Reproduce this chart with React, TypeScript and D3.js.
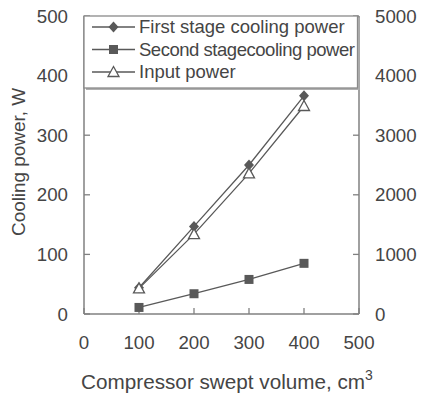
import React from "react";
import * as d3 from "d3";

const volumes = [100, 200, 300, 400];
const firstStage = [44, 147, 250, 366];
const secondStage = [11, 34, 58, 85];
const inputPower = [430, 1340, 2360, 3490];
const xTicks = [0, 100, 200, 300, 400, 500];
const yLeftTicks = [0, 100, 200, 300, 400, 500];
const yRightTicks = [0, 1000, 2000, 3000, 4000, 5000];
const legendLabels = ["First stage cooling power", "Second stagecooling power", "Input power"];

const W = 421, H = 394;
const m = { left: 84, right: 359, top: 16, bottom: 314 };
const FONT = "Liberation Sans, Arial, sans-serif";
const TEXT = "#454545";
const AXIS = "#808080";
const MARK = "#595959";

export default function App() {
  const x = d3.scaleLinear().domain([0, 500]).range([m.left, m.right]);
  const yL = d3.scaleLinear().domain([0, 500]).range([m.bottom, m.top]);
  const yR = d3.scaleLinear().domain([0, 5000]).range([m.bottom, m.top]);
  const line = d3.line<[number, number]>().x(d => d[0]).y(d => d[1]);

  const p1 = volumes.map((v, i) => [x(v), yL(firstStage[i])] as [number, number]);
  const p2 = volumes.map((v, i) => [x(v), yL(secondStage[i])] as [number, number]);
  const p3 = volumes.map((v, i) => [x(v), yR(inputPower[i])] as [number, number]);

  const diamond = (cx: number, cy: number) => (
    <path d={`M${cx},${cy - 5.5}L${cx + 5},${cy}L${cx},${cy + 5.5}L${cx - 5},${cy}Z`} fill={MARK} />
  );
  const square = (cx: number, cy: number) => (
    <rect x={cx - 4.5} y={cy - 4.5} width={9} height={9} fill={MARK} />
  );
  const triangle = (cx: number, cy: number) => (
    <path d={`M${cx},${cy - 5.5}L${cx + 5.5},${cy + 4.5}L${cx - 5.5},${cy + 4.5}Z`} fill="#fff" stroke={MARK} strokeWidth={1.3} />
  );

  const legX = m.left, legY = m.top, legW = 273.5, legH = 72;
  const rowY = [27, 49.5, 72];

  return (
    <svg width={W} height={H} style={{ position: "absolute", left: 0, top: 0 }} fontFamily={FONT}>
      <rect width={W} height={H} fill="#fff" />
      {/* axes */}
      <line x1={m.left} x2={m.left} y1={m.top} y2={m.bottom} stroke={AXIS} strokeWidth={1.5} />
      <line x1={m.right} x2={m.right} y1={m.top} y2={m.bottom} stroke={AXIS} strokeWidth={1.5} />
      <line x1={m.left} x2={m.right} y1={m.bottom} y2={m.bottom} stroke={AXIS} strokeWidth={1.5} />
      {yLeftTicks.map(t => (
        <g key={"l" + t}>
          <line x1={m.left} x2={m.left + 6} y1={yL(t)} y2={yL(t)} stroke={AXIS} strokeWidth={1.3} />
          <text x={68} y={yL(t)} dy="0.35em" textAnchor="end" fontSize={18.7} fill={TEXT}>{t}</text>
        </g>
      ))}
      {yRightTicks.map(t => (
        <g key={"r" + t}>
          <line x1={m.right - 6} x2={m.right} y1={yR(t)} y2={yR(t)} stroke={AXIS} strokeWidth={1.3} />
          <text x={375} y={yR(t)} dy="0.35em" textAnchor="start" fontSize={18.7} fill={TEXT}>{t}</text>
        </g>
      ))}
      {xTicks.map(t => (
        <g key={"x" + t}>
          <line x1={x(t)} x2={x(t)} y1={m.bottom - 6} y2={m.bottom} stroke={AXIS} strokeWidth={1.3} />
          <text x={x(t)} y={348.5} textAnchor="middle" fontSize={18.7} fill={TEXT}>{t}</text>
        </g>
      ))}
      {/* titles */}
      <text transform={`translate(25,162) rotate(-90)`} textAnchor="middle" fontSize={18.9} fill={TEXT}>Cooling power, W</text>
      <text x={227} y={389} textAnchor="middle" fontSize={20.7} fill={TEXT}>
        Compressor swept volume, cm<tspan dy={-9} fontSize={14}>3</tspan>
      </text>
      {/* series */}
      <path d={line(p1) || ""} fill="none" stroke={MARK} strokeWidth={1.3} />
      <path d={line(p3) || ""} fill="none" stroke={MARK} strokeWidth={1.3} />
      <path d={line(p2) || ""} fill="none" stroke={MARK} strokeWidth={1.3} />
      {p2.map((p, i) => <g key={"s" + i}>{square(p[0], p[1])}</g>)}
      {p1.map((p, i) => <g key={"d" + i}>{diamond(p[0], p[1])}</g>)}
      {p3.map((p, i) => <g key={"t" + i}>{triangle(p[0], p[1])}</g>)}
      {/* legend */}
      <rect x={legX + 2} y={legY + 2} width={legW} height={legH} fill="#b0b0b0" />
      <rect x={legX} y={legY} width={legW} height={legH} fill="#fff" stroke="#8a8a8a" strokeWidth={1.3} />
      {legendLabels.map((lab, i) => {
        const cy = rowY[i];
        return (
          <g key={lab}>
            <line x1={92} x2={135} y1={cy} y2={cy} stroke={MARK} strokeWidth={1.3} />
            {i === 0 ? diamond(113.5, cy) : i === 1 ? square(113.5, cy) : triangle(113.5, cy)}
            <text x={139} y={cy} dy="0.35em" fontSize={18.5} fill={TEXT} textLength={i === 1 ? 216 : undefined}>{lab}</text>
          </g>
        );
      })}
    </svg>
  );
}
